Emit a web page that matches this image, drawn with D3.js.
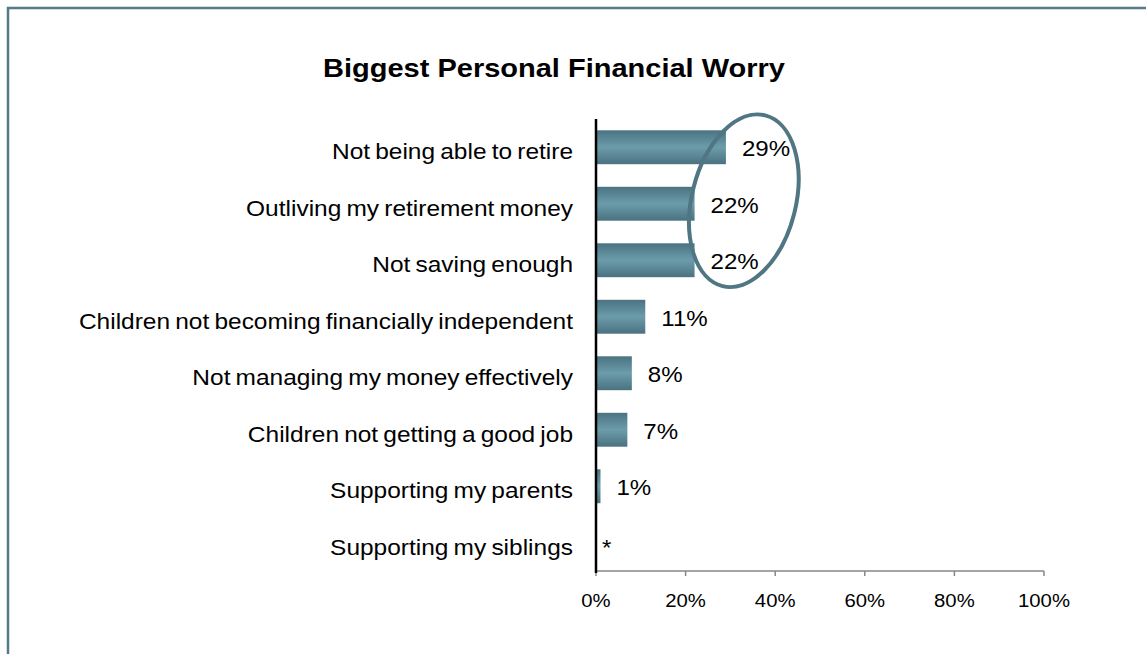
<!DOCTYPE html>
<html>
<head>
<meta charset="utf-8">
<script src="https://cdn.jsdelivr.net/npm/d3@7"></script>
<style>
  html, body { margin: 0; padding: 0; background: #ffffff; }
  svg { display: block; }
  text { font-family: "Liberation Sans", Arial, sans-serif; fill: #000; }
</style>
</head>
<body>
<div id="chart"></div>
<script>
// Survey answers, top to bottom
const categories = [
  "Not being able to retire",
  "Outliving my retirement money",
  "Not saving enough",
  "Children not becoming financially independent",
  "Not managing my money effectively",
  "Children not getting a good job",
  "Supporting my parents",
  "Supporting my siblings"
];
// Share of respondents (%); "*" marks less than 0.5%
const values = [29, 22, 22, 11, 8, 7, 1, 0];
const valueLabels = ["29%", "22%", "22%", "11%", "8%", "7%", "1%", "*"];
const ticks = [0, 20, 40, 60, 80, 100];
const tickLabels = ["0%", "20%", "40%", "60%", "80%", "100%"];
// answers grouped by the highlight ring
const highlighted = [0, 1, 2];

const W = 1146, H = 654;
const margin = { left: 596, right: 102, top: 119, bottom: 83 };

const svg = d3.select("#chart").append("svg")
  .attr("width", W).attr("height", H);

const defs = svg.append("defs");
const grad = defs.append("linearGradient")
  .attr("id", "barFill").attr("x1", 0).attr("y1", 0).attr("x2", 0).attr("y2", 1);
grad.append("stop").attr("offset", "0%").attr("stop-color", "#4a7381");
grad.append("stop").attr("offset", "50%").attr("stop-color", "#6c9cab");
grad.append("stop").attr("offset", "100%").attr("stop-color", "#4a7280");

// outer frame
svg.append("rect")
  .attr("x", 8).attr("y", 8).attr("width", W + 20).attr("height", H + 20)
  .attr("fill", "none").attr("stroke", "#557a87").attr("stroke-width", 2.5);

const x = d3.scaleLinear().domain([0, 100]).range([margin.left, W - margin.right]);
const y = d3.scaleBand().domain(categories)
  .range([margin.top, H - margin.bottom]).paddingInner(0.4).paddingOuter(0.2);

// text placed at an anchor point, with a slight horizontal stretch
function placeText(sel, sx, getX, getY) {
  sel.attr("transform", (d, i) => `translate(${getX(d, i)},${getY(d, i)}) scale(${sx},1)`);
}

// title
svg.append("text")
  .attr("text-anchor", "middle")
  .style("font-size", "26.5px").style("font-weight", "bold")
  .text("Biggest Personal Financial Worry")
  .call(placeText, 1.095, () => 554, () => 77);

// bars
svg.append("g").selectAll("rect")
  .data(categories)
  .join("rect")
  .attr("x", x(0))
  .attr("y", d => y(d))
  .attr("width", (d, i) => x(values[i]) - x(0))
  .attr("height", y.bandwidth())
  .attr("fill", "url(#barFill)");

// value labels
svg.append("g").selectAll("text")
  .data(categories)
  .join("text")
  .style("font-size", "22.5px")
  .text((d, i) => valueLabels[i])
  .call(placeText, 1.07, (d, i) => x(values[i]) + (values[i] > 0 ? 16 : 6),
        d => y(d) + y.bandwidth() / 2 + (d === "Supporting my siblings" ? 12 : 9));

// category labels
svg.append("g").selectAll("text")
  .data(categories)
  .join("text")
  .attr("text-anchor", "end")
  .style("font-size", "22.5px").style("word-spacing", "-1.5px")
  .text(d => d)
  .call(placeText, 1.088, () => x(0) - 23, d => y(d) + y.bandwidth() / 2 + 12);

// horizontal value axis
const axisY = H - margin.bottom;
const xAxis = svg.append("g").attr("transform", `translate(0,${axisY})`);
xAxis.append("line")
  .attr("x1", x(0)).attr("x2", x(100))
  .attr("stroke", "#878787").attr("stroke-width", 1.5);
xAxis.selectAll("line.tick")
  .data(ticks)
  .join("line").attr("class", "tick")
  .attr("x1", d => x(d)).attr("x2", d => x(d))
  .attr("y1", 0).attr("y2", 5)
  .attr("stroke", "#878787").attr("stroke-width", 1.5);
xAxis.selectAll("text")
  .data(ticks)
  .join("text")
  .attr("text-anchor", "middle")
  .style("font-size", "19px")
  .text((d, i) => tickLabels[i])
  .call(placeText, 1.07, d => x(d), () => 36);

// category axis line
svg.append("line")
  .attr("x1", x(0)).attr("x2", x(0))
  .attr("y1", margin.top).attr("y2", axisY + 2)
  .attr("stroke", "#000").attr("stroke-width", 2.5);

// ring around the three retirement-related answers
const first = categories[highlighted[0]];
const last = categories[highlighted[highlighted.length - 1]];
const ringCy = (y(first) + y(last) + y.bandwidth()) / 2 - 3;
const ringCx = x(33);
svg.append("ellipse")
  .attr("cx", 0).attr("cy", 0)
  .attr("rx", 52).attr("ry", 88)
  .attr("transform", `translate(${ringCx},${ringCy}) rotate(14)`)
  .attr("fill", "none")
  .attr("stroke", "#4f7682").attr("stroke-width", 4);
</script>
</body>
</html>
